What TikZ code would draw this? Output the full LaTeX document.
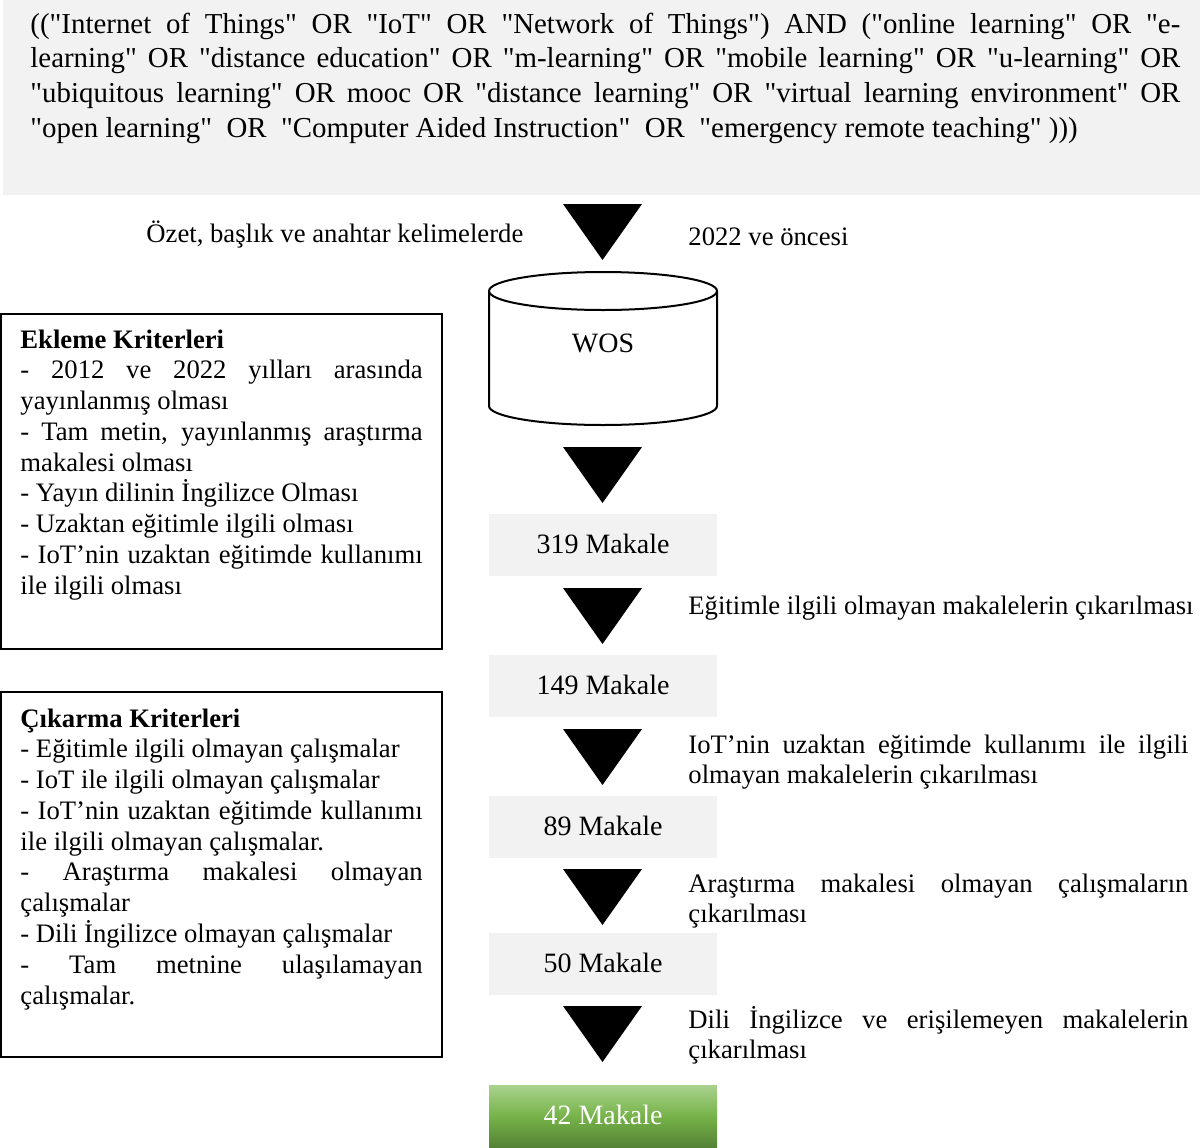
\documentclass[tikz,border=0pt]{standalone}
\usepackage{fontspec}
\setmainfont{Liberation Serif}[Ligatures=TeXOff]
\usetikzlibrary{positioning}

\definecolor{boxgray}{RGB}{242,242,242}
\definecolor{greentop}{RGB}{169,209,142}
\definecolor{greenmid}{RGB}{118,178,72}
\definecolor{greenbot}{RGB}{84,130,53}

\tolerance=10000
\hyphenpenalty=10000
\exhyphenpenalty=10000

\begin{document}
\begin{tikzpicture}[
      x=0.45pt, y=-0.45pt,
      query/.style={anchor=base west, inner sep=0, text width=517.5pt, align=justify, font=\fontsize{13}{15.6}\selectfont},
      crit/.style={anchor=base west, inner sep=0, text width=181pt, align=justify, font=\fontsize{12}{13.85}\selectfont},
      note/.style={anchor=base west, inner sep=0, font=\fontsize{12}{13.6}\selectfont},
      notepar/.style={note, text width=225pt, align=justify},
      count/.style={rectangle, fill=boxgray, inner sep=0, minimum width=102.6pt, minimum height=27.9pt, font=\fontsize{12.6}{14}\selectfont},
      final/.style={count, top color=greentop, bottom color=greenbot, middle color=greenmid, text=white},
      critbox/.style={draw, line width=0.7pt},
      db/.style={draw, line width=0.9pt}
    ]
    \useasboundingbox (0,0) rectangle (1200,1147);

    % search query
    \fill[boxgray] (3,0) rectangle (1200,195);
    \node[query] (query) at (30,33) {(("Internet of Things" OR "IoT" OR "Network of Things") AND ("online learning" OR "e-\linebreak
      learning" OR "distance education" OR "m-learning" OR "mobile learning" OR "u-learning" OR\linebreak
      "ubiquitous learning" OR mooc OR "distance learning" OR "virtual learning environment" OR\linebreak
      "open learning"\ \ OR\ \ "Computer Aided Instruction"\ \ OR\ \ "emergency remote teaching"\ )))};

    % down triangles
    \foreach \t in {204,447,588,729,869,1006}
      \fill (563,\t) -- (642,\t) -- (602.5,\t+56) -- cycle;

    \node[note] (scope) at (146,242) {Özet, başlık ve anahtar kelimelerde};
    \node[note] (years) at (688,245) {2022 ve öncesi};

    % database
    \draw[db] (489,291) -- (489,406) arc[start angle=180, end angle=0, x radius=114, y radius=19] -- (717,291);
    \draw[db, fill=white] (603,291) ellipse [x radius=114, y radius=19];
    \node[count, fill=none, anchor=base] (wos) at (603,352) {WOS};

    % article counts
    \node[count] (n319) at (603,545) {\raisebox{1.5pt}{319 Makale}};
    \node[count] (n149) at (603,686) {\raisebox{1.5pt}{149 Makale}};
    \node[count] (n89) at (603,827) {\raisebox{1.5pt}{89 Makale}};
    \node[count] (n50) at (603,964) {\raisebox{1.5pt}{50 Makale}};
    \node[final] (n42) at (603,1116.5) {\raisebox{1.5pt}{42 Makale}};

    % removal steps
    \node[note] (step1) at (688,614) {Eğitimle ilgili olmayan makalelerin çıkarılması};
    \node[notepar] (step2) at (688,753) {IoT’nin uzaktan eğitimde kullanımı ile ilgili\linebreak
      olmayan makalelerin çıkarılması};
    \node[notepar] (step3) at (688,892) {Araştırma makalesi olmayan çalışmaların\linebreak
      çıkarılması};
    \node[notepar] (step4) at (688,1028) {Dili İngilizce ve erişilemeyen makalelerin\linebreak
      çıkarılması};

    % criteria
    \draw[critbox] (0.8,314) rectangle (442,649);
    \node[crit] (incl) at (20,348) {\textbf{Ekleme Kriterleri}\\
      - 2012 ve 2022 yılları arasında\linebreak
      yayınlanmış olması\\
      - Tam metin, yayınlanmış araştırma\linebreak
      makalesi olması\\
      - Yayın dilinin İngilizce Olması\\
      - Uzaktan eğitimle ilgili olması\\
      - IoT’nin uzaktan eğitimde kullanımı\linebreak
      ile ilgili olması};

    \draw[critbox] (0.8,692) rectangle (442,1057);
    \node[crit] (excl) at (20,727) {\textbf{Çıkarma Kriterleri}\\
      - Eğitimle ilgili olmayan çalışmalar\\
      - IoT ile ilgili olmayan çalışmalar\\
      - IoT’nin uzaktan eğitimde kullanımı\linebreak
      ile ilgili olmayan çalışmalar.\\
      - Araştırma makalesi olmayan\linebreak
      çalışmalar\\
      - Dili İngilizce olmayan çalışmalar\\
      - Tam metnine ulaşılamayan\linebreak
      çalışmalar.};
  \end{tikzpicture}
\end{document}
